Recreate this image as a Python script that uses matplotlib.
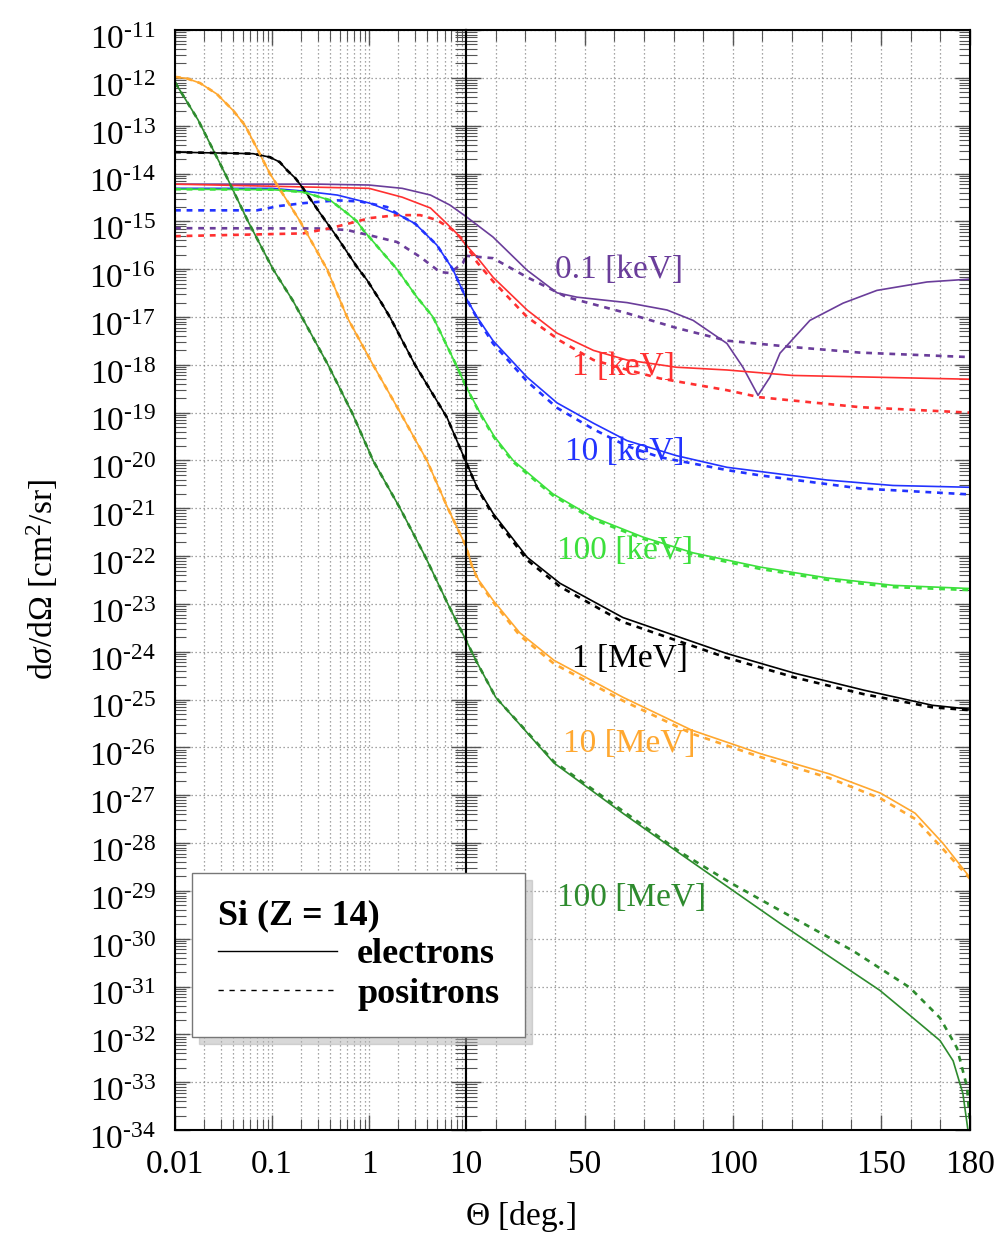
import numpy as np
import matplotlib
matplotlib.use('Agg')
import matplotlib.pyplot as plt
from matplotlib.ticker import LogLocator, FixedLocator, NullFormatter, FuncFormatter, MultipleLocator
from matplotlib.lines import Line2D
from matplotlib.transforms import ScaledTranslation

plt.rcParams['font.family'] = ['Liberation Serif', 'DejaVu Serif']
plt.rcParams['mathtext.fontset'] = 'custom'
plt.rcParams['mathtext.rm'] = 'Liberation Serif'
plt.rcParams['mathtext.it'] = 'Liberation Serif:italic'
plt.rcParams['mathtext.bf'] = 'Liberation Serif:bold'

# 0.1 keV
th_e_01keV = [0.01, 0.3, 1.0, 2.2, 4.3, 6.8, 10, 19.1, 30.6, 40.7, 47.4, 64.3, 77.8, 86.6, 98, 103.4,
              108.5, 112.5, 115.9, 126, 137.2, 148.6, 165.5, 180]
cs_e_01keV = [6.0e-15, 6.0e-15, 5.75e-15, 4.9e-15, 3.55e-15, 2.2e-15, 1.26e-15, 4.7e-16, 9.5e-17, 3.2e-17,
              2.6e-17, 2.0e-17, 1.4e-17, 8.5e-18, 2.8e-18, 8.9e-19, 2.3e-19, 5.5e-19, 1.75e-18, 8.5e-18,
              1.95e-17, 3.6e-17, 5.4e-17, 6.2e-17]
th_p_01keV = [0.01, 0.3, 0.59, 1.02, 1.94, 3.4, 5.4, 6.8, 9.3, 10, 19.1, 30.6, 44, 64.3, 81, 98, 120.3,
              142.9, 180]
cs_p_01keV = [7.2e-16, 7.1e-16, 6.6e-16, 5.1e-16, 3.7e-16, 1.78e-16, 8.7e-17, 8.3e-17, 1.35e-16, 1.9e-16,
              1.7e-16, 6.8e-17, 2.6e-17, 1.2e-17, 5.9e-18, 3.2e-18, 2.35e-18, 1.8e-18, 1.45e-18]

# 1 keV
th_e_1keV = [0.01, 1.0, 2.2, 4.3, 6.0, 8.0, 10, 13.7, 19.1, 30.6, 40.7, 53, 64.3, 81, 98, 120, 148.6, 180]
cs_e_1keV = [6.0e-15, 4.9e-15, 3.2e-15, 1.9e-15, 1.0e-15, 5.6e-16, 3.2e-16, 1.78e-16, 6.8e-17, 1.4e-17,
             4.6e-18, 2.0e-18, 1.26e-18, 8.9e-19, 7.8e-19, 6.0e-19, 5.5e-19, 5.0e-19]
th_p_1keV = [0.01, 0.21, 0.4, 0.63, 1.02, 1.94, 3.36, 5.0, 7.3, 9.3, 10, 13.7, 19.1, 30.6, 41.7, 53,
             64.3, 75.4, 98, 109, 143, 180]
cs_p_1keV = [4.9e-16, 5.6e-16, 7.2e-16, 9.1e-16, 1.17e-15, 1.35e-15, 1.35e-15, 1.07e-15, 6.6e-16, 4.1e-16,
             3.2e-16, 1.4e-16, 5.6e-17, 1.0e-17, 3.2e-18, 1.26e-18, 7.9e-19, 5.2e-19, 2.95e-19, 2.1e-19,
             1.3e-19, 1.0e-19]

# 10 keV
th_e_10keV = [0.01, 0.1, 0.21, 0.47, 1.02, 2.0, 3.0, 5.0, 7.3, 10, 13.7, 19.1, 30.6, 40.7, 53, 64.3, 81,
              98, 131.8, 154, 180]
cs_e_10keV = [4.9e-15, 4.9e-15, 4.3e-15, 3.55e-15, 2.4e-15, 1.4e-15, 8.9e-16, 3.2e-16, 1.0e-16, 2.5e-17,
              1.0e-17, 3.2e-18, 5.5e-19, 1.6e-19, 6.0e-20, 2.6e-20, 1.26e-20, 7.2e-21, 3.9e-21, 3.0e-21,
              2.75e-21]
th_p_10keV = [0.01, 0.07, 0.12, 0.21, 0.47, 0.81, 1.53, 2.0, 3.0, 5.0, 7.3, 10, 13.7, 19.1, 30.6, 40.7,
              53, 64.3, 75.4, 98, 109, 143, 180]
cs_p_10keV = [1.7e-15, 1.7e-15, 2.1e-15, 2.4e-15, 2.75e-15, 2.6e-15, 2.0e-15, 1.4e-15, 8.9e-16, 3.2e-16,
              1.0e-16, 2.5e-17, 9.5e-18, 2.8e-18, 4.5e-19, 1.26e-19, 4.5e-20, 2.0e-20, 1.17e-20, 6.3e-21,
              4.9e-21, 2.6e-21, 1.95e-21]

# 100 keV
th_e_100keV = [0.01, 0.1, 0.21, 0.4, 0.59, 0.75, 0.87, 1.94, 3.12, 4.57, 7.9, 10, 14.7, 19.5, 25.9, 39.3,
               52.8, 69.7, 86.6, 109.2, 131.8, 154, 180]
cs_e_100keV = [4.7e-15, 4.6e-15, 4.1e-15, 2.75e-15, 1.5e-15, 1.0e-15, 6.6e-16, 1.0e-16, 2.6e-17, 1.0e-17,
               1.0e-18, 3.5e-19, 1.0e-19, 3.2e-20, 1.0e-20, 2.0e-21, 6.5e-22, 2.5e-22, 1.17e-22, 5.9e-23,
               3.5e-23, 2.45e-23, 2.1e-23]
th_p_100keV = th_e_100keV
cs_p_100keV = [4.7e-15, 4.6e-15, 4.1e-15, 2.75e-15, 1.5e-15, 1.0e-15, 6.6e-16, 1.0e-16, 2.6e-17, 1.0e-17,
               1.0e-18, 3.5e-19, 9.5e-20, 3.0e-20, 9.3e-21, 1.85e-21, 5.9e-22, 2.3e-22, 1.07e-22, 5.4e-23,
               3.2e-23, 2.25e-23, 1.95e-23]

# 1 MeV
th_e_1MeV = [0.01, 0.064, 0.095, 0.12, 0.143, 0.175, 0.209, 0.313, 0.468, 0.75, 0.955, 1.3, 1.64, 2.98,
             6.37, 10, 13.7, 19.1, 30.6, 41.7, 62.9, 97.7, 120.9, 144.1, 167.3, 180]
cs_e_1MeV = [2.8e-14, 2.6e-14, 2.2e-14, 1.74e-14, 1.17e-14, 7.9e-15, 4.9e-15, 1.48e-15, 4.7e-16, 1.12e-16,
             5.9e-17, 2.2e-17, 1.0e-17, 1.0e-18, 7.9e-20, 9.3e-21, 2.8e-21, 7.9e-22, 9.5e-23, 2.7e-23,
             5.2e-24, 9.3e-25, 3.55e-25, 1.58e-25, 7.6e-26, 6.3e-26]
th_p_1MeV = th_e_1MeV
cs_p_1MeV = [2.8e-14, 2.6e-14, 2.2e-14, 1.74e-14, 1.17e-14, 7.9e-15, 4.9e-15, 1.48e-15, 4.7e-16, 1.12e-16,
             5.9e-17, 2.2e-17, 1.0e-17, 1.0e-18, 7.9e-20, 9.3e-21, 2.7e-21, 7.2e-22, 8.3e-23, 2.3e-23,
             4.2e-24, 7.6e-25, 2.9e-25, 1.3e-25, 6.9e-26, 6.0e-26]

# 10 MeV
th_e_10MeV = [0.01, 0.0133, 0.0181, 0.027, 0.0396, 0.053, 0.095, 0.195, 0.369, 0.593, 1.1, 2.1, 3.95,
              6.5, 10, 12, 14.2, 19.1, 28.1, 39.7, 62.9, 86.1, 109.3, 132.5, 149.9, 161.5, 170.8, 180]
cs_e_10MeV = [1.05e-12, 9.7e-13, 7.8e-13, 4.6e-13, 2.1e-13, 1.0e-13, 1.0e-14, 1.0e-15, 1.0e-16, 1.0e-17,
              1.0e-18, 1.0e-19, 1.0e-20, 1.0e-21, 1.6e-22, 6.3e-23, 3.2e-23, 1.2e-23, 2.5e-24, 6.6e-25,
              1.12e-25, 2.3e-26, 7.4e-27, 2.8e-27, 1.1e-27, 4.2e-28, 1.0e-28, 1.9e-29]
th_p_10MeV = th_e_10MeV
cs_p_10MeV = [1.05e-12, 9.7e-13, 7.8e-13, 4.6e-13, 2.1e-13, 1.0e-13, 1.0e-14, 1.0e-15, 1.0e-16, 1.0e-17,
              1.0e-18, 1.0e-19, 1.0e-20, 1.0e-21, 1.6e-22, 6.2e-23, 3.0e-23, 1.1e-23, 2.2e-24, 5.6e-25,
              9.5e-26, 1.95e-26, 6.3e-27, 2.3e-27, 8.5e-28, 3.2e-28, 7.6e-29, 1.8e-29]

# 100 MeV
th_e_100MeV = [0.01, 0.0173, 0.0328, 0.0566, 0.1024, 0.164, 0.378, 0.668, 1.1, 2.09, 3.78, 6.5, 10, 13.5,
               20, 39.7, 62.9, 82.2, 115.9, 149.6, 160.8, 169.9, 174.3, 177.6, 179.3]
cs_e_100MeV = [8.1e-13, 1.32e-13, 1.0e-14, 1.0e-15, 1.0e-16, 2.2e-17, 1.0e-18, 1.0e-19, 1.0e-20, 1.0e-21,
               1.0e-22, 1.0e-23, 1.74e-24, 6.3e-25, 1.12e-25, 4.7e-27, 4.2e-28, 6.0e-29, 2.1e-30, 8.3e-32,
               2.2e-32, 7.4e-33, 2.8e-33, 5.8e-34, 1.0e-34]
th_p_100MeV = [0.01, 0.0173, 0.0328, 0.0566, 0.1024, 0.164, 0.378, 0.668, 1.1, 2.09, 3.78, 6.5, 10, 13.5,
               20, 39.7, 62.9, 82.2, 99, 120.3, 140.5, 159.7, 169.9, 175.6, 179, 179.9]
cs_p_100MeV = [8.1e-13, 1.32e-13, 1.0e-14, 1.0e-15, 1.0e-16, 2.2e-17, 1.0e-18, 1.0e-19, 1.0e-20, 1.0e-21,
               1.0e-22, 1.0e-23, 1.74e-24, 6.3e-25, 1.12e-25, 5.0e-27, 4.7e-28, 6.5e-29, 1.5e-29, 2.75e-30,
               5.6e-31, 9.5e-32, 2.2e-32, 5.2e-33, 7.9e-34, 1.6e-34]

energy_labels = ['0.1 [keV]', '1 [keV]', '10 [keV]', '100 [keV]', '1 [MeV]', '10 [MeV]', '100 [MeV]']
colors = ['#6a3d9a', '#ff3030', '#2233ff', '#3ce03c', 'black', '#ffa830', '#2e8b2e']

electrons = [(th_e_01keV, cs_e_01keV), (th_e_1keV, cs_e_1keV), (th_e_10keV, cs_e_10keV),
             (th_e_100keV, cs_e_100keV), (th_e_1MeV, cs_e_1MeV), (th_e_10MeV, cs_e_10MeV),
             (th_e_100MeV, cs_e_100MeV)]
positrons = [(th_p_01keV, cs_p_01keV), (th_p_1keV, cs_p_1keV), (th_p_10keV, cs_p_10keV),
             (th_p_100keV, cs_p_100keV), (th_p_1MeV, cs_p_1MeV), (th_p_10MeV, cs_p_10MeV),
             (th_p_100MeV, cs_p_100MeV)]

# label anchor (theta, value) on the linear panel
label_pos = [(40.0, 9.5e-17), (45.7, 8.9e-19), (43.4, 1.5e-20), (40.7, 1.3e-22),
             (45.7, 7.2e-25), (42.7, 1.2e-26), (40.7, 7.2e-30)]

fig = plt.figure(figsize=(9.96, 12.37), dpi=100)
ax1 = fig.add_axes([0.1757, 0.0865, 0.2922, 0.8892])
ax2 = fig.add_axes([0.4679, 0.0865, 0.5060, 0.8892])

grid_kw = dict(color='#888888', linestyle=(0, (1, 2.2)), linewidth=0.9)

for ax in (ax1, ax2):
    for (th, cs), c in zip(electrons, colors):
        ax.plot(th, cs, color=c, lw=1.2, solid_joinstyle='round')
    for (th, cs), c in zip(positrons, colors):
        ax.plot(th, cs, color=c, lw=1.9, dashes=(2.2, 2.2))
    ax.set_yscale('log')
    ax.set_ylim(1e-34, 1e-11)
    ax.yaxis.set_major_locator(LogLocator(base=10, numticks=40))
    ax.yaxis.set_minor_locator(LogLocator(base=10, subs=np.arange(2, 10), numticks=400))
    ax.yaxis.set_minor_formatter(NullFormatter())
    ax.tick_params(which='both', direction='in', top=True, bottom=True, left=True, right=True,
                   color='#555555', labelsize=24)
    ax.tick_params(which='major', length=11, width=1.0, pad=14)
    ax.tick_params(which='minor', length=8, width=0.8)
    ax.grid(True, which='major', axis='y', **grid_kw)
    for sp in ax.spines.values():
        sp.set_linewidth(1.5)

ax1.set_xscale('log')
ax1.set_xlim(0.01, 10)
ax1.xaxis.set_major_locator(FixedLocator([0.01, 0.1, 1, 10]))
ax1.xaxis.set_major_formatter(FuncFormatter(lambda v, p: {0.01: '0.01', 0.1: '0.1', 1: '1', 10: '10'}.get(round(v, 2), '')))
ax1.xaxis.set_minor_locator(LogLocator(base=10, subs=np.arange(2, 10), numticks=50))
ax1.xaxis.set_minor_formatter(NullFormatter())
ax1.grid(True, which='both', axis='x', **grid_kw)
ax1.yaxis.set_major_formatter(FuncFormatter(lambda v, p: r'$10^{\text{-}%d}$' % int(round(-np.log10(v)))))

ax2.set_xlim(10, 180)
ax2.xaxis.set_major_locator(FixedLocator([50, 100, 150, 180]))
ax2.xaxis.set_minor_locator(MultipleLocator(10))
ax2.grid(True, which='both', axis='x', **grid_kw)
ax2.tick_params(axis='y', which='both', labelleft=False)

for lab, c, (tx, ty) in zip(energy_labels, colors, label_pos):
    ax2.text(tx, ty, lab, color=c, fontsize=24, ha='left', va='center')

fig.text(520 / 996, 1 - 1217 / 1237, r'$\Theta$ [deg.]', ha='center', va='center', fontsize=24)
fig.text(42 / 996, 1 - 580 / 1237, r'd$\sigma$/d$\Omega$ [cm$^2$/sr]', ha='center', va='center',
         rotation=90, fontsize=24)

handles = [Line2D([], [], color='black', lw=1.0),
           Line2D([], [], color='black', lw=1.0, dashes=(3.8, 4.1))]
leg = fig.legend(handles, ['electrons', 'positrons'], title='Si (Z = 14)', loc='upper left',
                 bbox_to_anchor=(192 / 996, 1 - 873 / 1237), borderaxespad=0, fancybox=False,
                 shadow={'ox': 5, 'oy': -5, 'shade': 0.3}, framealpha=1, edgecolor='#777777',
                 prop={'weight': 'bold', 'size': 26},
                 title_fontproperties={'weight': 'bold', 'size': 26}, alignment='left',
                 handlelength=3.3, handletextpad=0.55, borderpad=0.72, labelspacing=0.17)
leg.get_frame().set_linewidth(1.0)
leg.set_zorder(10)

fig.canvas.draw()
shift = ScaledTranslation(0, -7 / 100, fig.dpi_scale_trans)
for t in ax1.yaxis.get_major_ticks():
    t.label1.set_transform(t.label1.get_transform() + shift)

fig.savefig('out.png', dpi=100)
